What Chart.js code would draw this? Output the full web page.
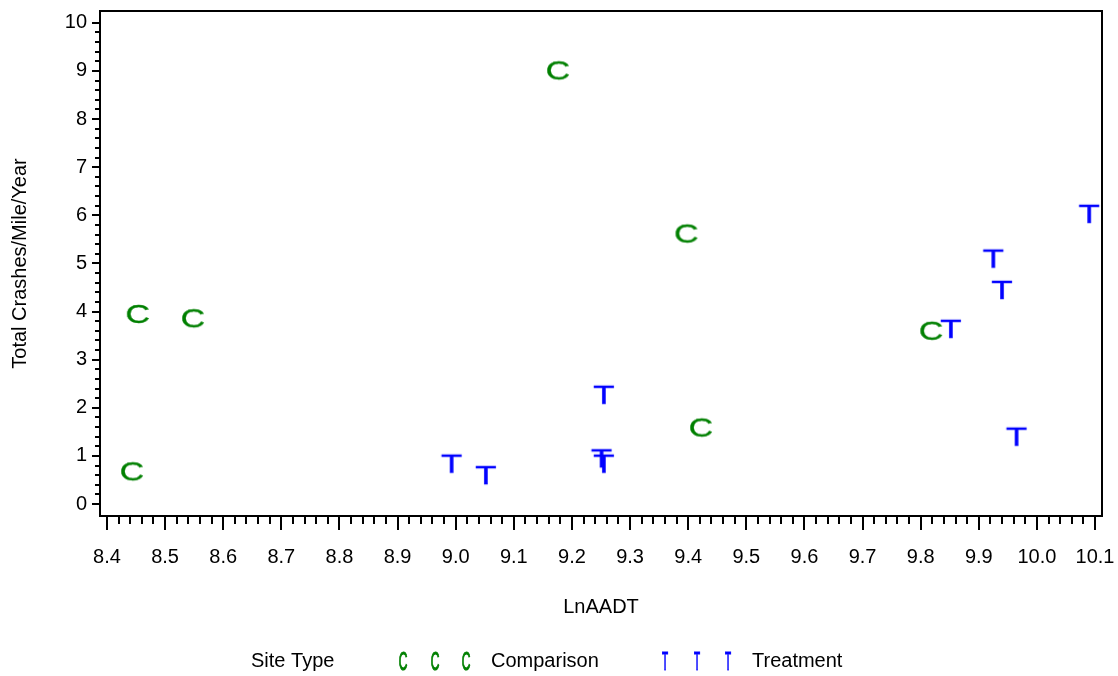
<!DOCTYPE html>
<html>
<head>
<meta charset="utf-8">
<title>Total Crashes vs LnAADT</title>
<script src="https://cdn.jsdelivr.net/npm/chart.js@4"></script>
<style>
  html, body { margin: 0; padding: 0; background: #fff; }
  #wrap { width: 1118px; height: 676px; }
</style>
</head>
<body>
<div id="wrap"><canvas id="chart" width="1118" height="676"></canvas></div>
<script>
// Data
const comparisonX = [8.453, 8.548, 8.443, 9.176, 9.397, 9.422, 9.818];
const comparisonY = [3.95, 3.86, 0.68, 9.01, 5.62, 1.59, 3.60];
const treatmentX = [8.993, 9.052, 9.255, 9.251, 9.255, 10.090, 9.925, 9.940, 9.852, 9.965];
const treatmentY = [0.84, 0.60, 2.27, 0.95, 0.84, 6.03, 5.10, 4.45, 3.64, 1.40];

// Axis ticks
const xTicks = [8.4, 8.5, 8.6, 8.7, 8.8, 8.9, 9.0, 9.1, 9.2, 9.3, 9.4, 9.5, 9.6, 9.7, 9.8, 9.9, 10.0, 10.1];
const yTicks = [0, 1, 2, 3, 4, 5, 6, 7, 8, 9, 10];
const minorPerMajor = 5;

const FONT = '"Liberation Sans", Arial, sans-serif';
const GREEN = '#008000';
const BLUE = '#0000ff';

// Letter markers (SAS style symbol=C / symbol=T)
function makeGlyph(ch, color, px, sx, sy, w, h, weight) {
  const c = document.createElement('canvas');
  c.width = w;
  c.height = h;
  const g = c.getContext('2d');
  g.fillStyle = color;
  g.strokeStyle = color;
  g.font = px + 'px ' + FONT;
  g.textAlign = 'center';
  g.textBaseline = 'alphabetic';
  const cap = px * 0.716;
  g.translate(w / 2, h / 2 + cap * sy / 2);
  g.scale(sx, sy);
  g.fillText(ch, 0, 0);
  if (weight) {
    g.lineWidth = weight;
    g.strokeText(ch, 0, 0);
  }
  return c;
}

const markC = makeGlyph('C', GREEN, 25, 1.35, 1, 40, 30, 0.35);
const markT = makeGlyph('T', BLUE, 25, 1.4, 1, 40, 30, 0.35);
const keyC = makeGlyph('C', GREEN, 20, 0.6, 1.3, 16, 30, 0.9);
const keyT = makeGlyph('T', BLUE, 20, 0.5, 1.3, 16, 30, 0.9);

function minorValues(majors) {
  const out = [];
  for (let i = 0; i < majors.length - 1; i++) {
    const step = (majors[i + 1] - majors[i]) / minorPerMajor;
    for (let k = 1; k < minorPerMajor; k++) out.push(majors[i] + step * k);
  }
  return out;
}

// Frame, major/minor tick marks and the "Site Type" legend row
const sasFrame = {
  id: 'sasFrame',
  afterDraw(chart) {
    const { ctx, chartArea: a, scales: { x, y } } = chart;
    ctx.save();
    ctx.strokeStyle = '#000';
    ctx.lineWidth = 2;
    ctx.beginPath();
    xTicks.forEach(v => {
      const px = Math.round(x.getPixelForValue(v));
      ctx.moveTo(px, a.bottom); ctx.lineTo(px, a.bottom + 14);
    });
    minorValues(xTicks).forEach(v => {
      const px = Math.round(x.getPixelForValue(v));
      ctx.moveTo(px, a.bottom); ctx.lineTo(px, a.bottom + 8);
    });
    yTicks.forEach(v => {
      const py = Math.round(y.getPixelForValue(v));
      ctx.moveTo(a.left, py); ctx.lineTo(a.left - 8, py);
    });
    minorValues(yTicks).forEach(v => {
      const py = Math.round(y.getPixelForValue(v));
      ctx.moveTo(a.left, py); ctx.lineTo(a.left - 5, py);
    });
    ctx.stroke();
    ctx.strokeRect(Math.round(a.left), Math.round(a.top), Math.round(a.right - a.left), Math.round(a.bottom - a.top));

    // legend
    const ly = 661;
    ctx.fillStyle = '#000';
    ctx.font = '20px ' + FONT;
    ctx.textBaseline = 'middle';
    ctx.textAlign = 'left';
    ctx.fillText('Site Type', 251, ly);
    [403, 435, 466].forEach(cx => ctx.drawImage(keyC, cx - keyC.width / 2, ly - keyC.height / 2));
    ctx.fillText('Comparison', 491, ly);
    [665, 697, 728].forEach(cx => ctx.drawImage(keyT, cx - keyT.width / 2, ly - keyT.height / 2));
    ctx.fillText('Treatment', 752, ly);
    ctx.restore();
  }
};

const ctx = document.getElementById('chart');
new Chart(ctx, {
  type: 'scatter',
  data: {
    datasets: [{
      label: 'Comparison',
      data: comparisonX.map((v, i) => ({ x: v, y: comparisonY[i] })),
      pointStyle: markC,
      pointRadius: 10,
      pointHoverRadius: 10
    }, {
      label: 'Treatment',
      data: treatmentX.map((v, i) => ({ x: v, y: treatmentY[i] })),
      pointStyle: markT,
      pointRadius: 10,
      pointHoverRadius: 10
    }]
  },
  options: {
    responsive: false,
    animation: false,
    layout: { padding: { top: 8, right: 16, bottom: 56, left: 0 } },
    plugins: {
      legend: { display: false },
      tooltip: { enabled: false }
    },
    scales: {
      x: {
        type: 'linear',
        min: 8.388,
        max: 10.112,
        grid: { display: false, drawTicks: false },
        border: { display: false },
        afterBuildTicks: axis => { axis.ticks = xTicks.map(v => ({ value: v })); },
        afterFit: axis => { axis.height = 104; axis.paddingLeft = 0; axis.paddingRight = 0; },
        ticks: {
          padding: 29,
          autoSkip: false,
          maxRotation: 0,
          color: '#000',
          font: { family: FONT, size: 20 },
          callback: v => Number(v).toFixed(1)
        },
        title: {
          display: true,
          text: 'LnAADT',
          color: '#000',
          font: { family: FONT, size: 20 },
          padding: { top: 0, bottom: 1 }
        }
      },
      y: {
        type: 'linear',
        min: -0.248,
        max: 10.244,
        grid: { display: false, drawTicks: false },
        border: { display: false },
        afterBuildTicks: axis => { axis.ticks = yTicks.map(v => ({ value: v })); },
        afterFit: axis => { axis.width = 100; axis.paddingTop = 0; axis.paddingBottom = 0; },
        ticks: {
          padding: 13,
          autoSkip: false,
          color: '#000',
          font: { family: FONT, size: 20 },
          callback: v => String(v)
        },
        title: {
          display: true,
          text: 'Total Crashes/Mile/Year',
          color: '#000',
          font: { family: FONT, size: 20 },
          padding: { top: 8, bottom: 0 }
        }
      }
    }
  },
  plugins: [sasFrame]
});
</script>
</body>
</html>
